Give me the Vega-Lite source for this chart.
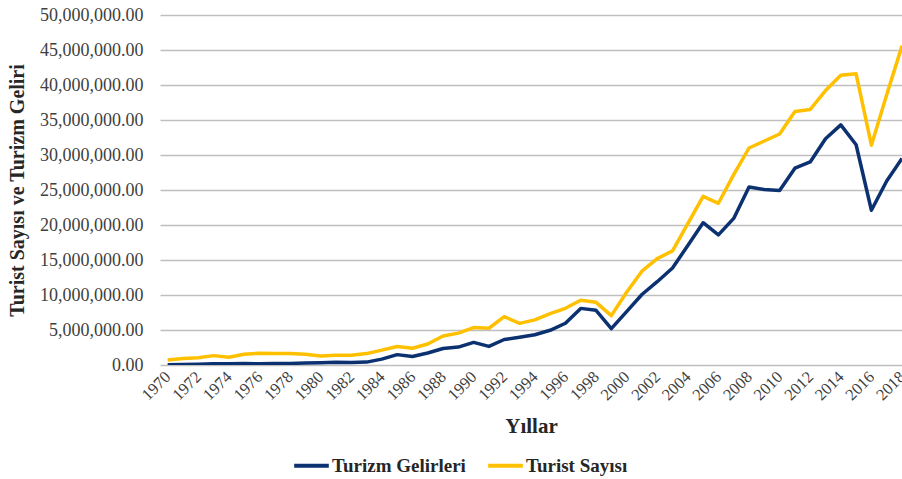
{
  "$schema": "https://vega.github.io/schema/vega-lite/v6.json",
  "width": 742,
  "height": 350,
  "autosize": {"type": "none"},
  "padding": {"left": 160, "top": 15, "right": 0, "bottom": 114},
  "background": "white",
  "config": {"view": {"stroke": null}, "font": "Liberation Serif"},
  "datasets": {
    "rows": [
      {"year": 1970, "series": "Turizm Gelirleri", "value": 51600},
      {"year": 1971, "series": "Turizm Gelirleri", "value": 62000},
      {"year": 1972, "series": "Turizm Gelirleri", "value": 103000},
      {"year": 1973, "series": "Turizm Gelirleri", "value": 171000},
      {"year": 1974, "series": "Turizm Gelirleri", "value": 194000},
      {"year": 1975, "series": "Turizm Gelirleri", "value": 201000},
      {"year": 1976, "series": "Turizm Gelirleri", "value": 181000},
      {"year": 1977, "series": "Turizm Gelirleri", "value": 205000},
      {"year": 1978, "series": "Turizm Gelirleri", "value": 230000},
      {"year": 1979, "series": "Turizm Gelirleri", "value": 281000},
      {"year": 1980, "series": "Turizm Gelirleri", "value": 327000},
      {"year": 1981, "series": "Turizm Gelirleri", "value": 381000},
      {"year": 1982, "series": "Turizm Gelirleri", "value": 370000},
      {"year": 1983, "series": "Turizm Gelirleri", "value": 411000},
      {"year": 1984, "series": "Turizm Gelirleri", "value": 840000},
      {"year": 1985, "series": "Turizm Gelirleri", "value": 1482000},
      {"year": 1986, "series": "Turizm Gelirleri", "value": 1215000},
      {"year": 1987, "series": "Turizm Gelirleri", "value": 1721000},
      {"year": 1988, "series": "Turizm Gelirleri", "value": 2355000},
      {"year": 1989, "series": "Turizm Gelirleri", "value": 2557000},
      {"year": 1990, "series": "Turizm Gelirleri", "value": 3225000},
      {"year": 1991, "series": "Turizm Gelirleri", "value": 2654000},
      {"year": 1992, "series": "Turizm Gelirleri", "value": 3639000},
      {"year": 1993, "series": "Turizm Gelirleri", "value": 3959000},
      {"year": 1994, "series": "Turizm Gelirleri", "value": 4321000},
      {"year": 1995, "series": "Turizm Gelirleri", "value": 4957000},
      {"year": 1996, "series": "Turizm Gelirleri", "value": 5962000},
      {"year": 1997, "series": "Turizm Gelirleri", "value": 8088000},
      {"year": 1998, "series": "Turizm Gelirleri", "value": 7809000},
      {"year": 1999, "series": "Turizm Gelirleri", "value": 5203000},
      {"year": 2000, "series": "Turizm Gelirleri", "value": 7636000},
      {"year": 2001, "series": "Turizm Gelirleri", "value": 10067000},
      {"year": 2002, "series": "Turizm Gelirleri", "value": 11901000},
      {"year": 2003, "series": "Turizm Gelirleri", "value": 13855000},
      {"year": 2004, "series": "Turizm Gelirleri", "value": 17077000},
      {"year": 2005, "series": "Turizm Gelirleri", "value": 20322000},
      {"year": 2006, "series": "Turizm Gelirleri", "value": 18594000},
      {"year": 2007, "series": "Turizm Gelirleri", "value": 20943000},
      {"year": 2008, "series": "Turizm Gelirleri", "value": 25415000},
      {"year": 2009, "series": "Turizm Gelirleri", "value": 25064000},
      {"year": 2010, "series": "Turizm Gelirleri", "value": 24931000},
      {"year": 2011, "series": "Turizm Gelirleri", "value": 28116000},
      {"year": 2012, "series": "Turizm Gelirleri", "value": 29007000},
      {"year": 2013, "series": "Turizm Gelirleri", "value": 32310000},
      {"year": 2014, "series": "Turizm Gelirleri", "value": 34305000},
      {"year": 2015, "series": "Turizm Gelirleri", "value": 31465000},
      {"year": 2016, "series": "Turizm Gelirleri", "value": 22107000},
      {"year": 2017, "series": "Turizm Gelirleri", "value": 26284000},
      {"year": 2018, "series": "Turizm Gelirleri", "value": 29513000},
      {"year": 1970, "series": "Turist Sayısı", "value": 720000},
      {"year": 1971, "series": "Turist Sayısı", "value": 930000},
      {"year": 1972, "series": "Turist Sayısı", "value": 1030000},
      {"year": 1973, "series": "Turist Sayısı", "value": 1340000},
      {"year": 1974, "series": "Turist Sayısı", "value": 1110000},
      {"year": 1975, "series": "Turist Sayısı", "value": 1540000},
      {"year": 1976, "series": "Turist Sayısı", "value": 1680000},
      {"year": 1977, "series": "Turist Sayısı", "value": 1660000},
      {"year": 1978, "series": "Turist Sayısı", "value": 1640000},
      {"year": 1979, "series": "Turist Sayısı", "value": 1520000},
      {"year": 1980, "series": "Turist Sayısı", "value": 1290000},
      {"year": 1981, "series": "Turist Sayısı", "value": 1410000},
      {"year": 1982, "series": "Turist Sayısı", "value": 1390000},
      {"year": 1983, "series": "Turist Sayısı", "value": 1630000},
      {"year": 1984, "series": "Turist Sayısı", "value": 2120000},
      {"year": 1985, "series": "Turist Sayısı", "value": 2650000},
      {"year": 1986, "series": "Turist Sayısı", "value": 2400000},
      {"year": 1987, "series": "Turist Sayısı", "value": 3000000},
      {"year": 1988, "series": "Turist Sayısı", "value": 4150000},
      {"year": 1989, "series": "Turist Sayısı", "value": 4550000},
      {"year": 1990, "series": "Turist Sayısı", "value": 5350000},
      {"year": 1991, "series": "Turist Sayısı", "value": 5250000},
      {"year": 1992, "series": "Turist Sayısı", "value": 6900000},
      {"year": 1993, "series": "Turist Sayısı", "value": 5950000},
      {"year": 1994, "series": "Turist Sayısı", "value": 6450000},
      {"year": 1995, "series": "Turist Sayısı", "value": 7350000},
      {"year": 1996, "series": "Turist Sayısı", "value": 8100000},
      {"year": 1997, "series": "Turist Sayısı", "value": 9250000},
      {"year": 1998, "series": "Turist Sayısı", "value": 8950000},
      {"year": 1999, "series": "Turist Sayısı", "value": 7050000},
      {"year": 2000, "series": "Turist Sayısı", "value": 10400000},
      {"year": 2001, "series": "Turist Sayısı", "value": 13400000},
      {"year": 2002, "series": "Turist Sayısı", "value": 15200000},
      {"year": 2003, "series": "Turist Sayısı", "value": 16300000},
      {"year": 2004, "series": "Turist Sayısı", "value": 20200000},
      {"year": 2005, "series": "Turist Sayısı", "value": 24100000},
      {"year": 2006, "series": "Turist Sayısı", "value": 23100000},
      {"year": 2007, "series": "Turist Sayısı", "value": 27200000},
      {"year": 2008, "series": "Turist Sayısı", "value": 31000000},
      {"year": 2009, "series": "Turist Sayısı", "value": 32000000},
      {"year": 2010, "series": "Turist Sayısı", "value": 33000000},
      {"year": 2011, "series": "Turist Sayısı", "value": 36200000},
      {"year": 2012, "series": "Turist Sayısı", "value": 36500000},
      {"year": 2013, "series": "Turist Sayısı", "value": 39200000},
      {"year": 2014, "series": "Turist Sayısı", "value": 41400000},
      {"year": 2015, "series": "Turist Sayısı", "value": 41600000},
      {"year": 2016, "series": "Turist Sayısı", "value": 31400000},
      {"year": 2017, "series": "Turist Sayısı", "value": 38600000},
      {"year": 2018, "series": "Turist Sayısı", "value": 45600000}
    ]
  },
  "data": {"name": "rows"},
  "mark": {"type": "line", "strokeWidth": 3.5, "clip": true, "strokeJoin": "round"},
  "encoding": {
    "x": {
      "field": "year",
      "type": "quantitative",
      "scale": {"domain": [1969.5, 2018], "nice": false, "zero": false},
      "axis": {
        "values": [1970, 1972, 1974, 1976, 1978, 1980, 1982, 1984, 1986, 1988, 1990, 1992, 1994, 1996, 1998, 2000, 2002, 2004, 2006, 2008, 2010, 2012, 2014, 2016, 2018],
        "format": "d",
        "labelAngle": -45,
        "labelAlign": "right",
        "labelBaseline": "middle",
        "labelFontSize": 16.5,
        "labelColor": "#404040",
        "labelPadding": 9,
        "labelFlush": false,
        "labelOverlap": false,
        "grid": false,
        "domain": false,
        "ticks": false,
        "title": "Yıllar",
        "titleFontSize": 21,
        "titleFontWeight": "bold",
        "titleColor": "#262626",
        "titlePadding": 12
      }
    },
    "y": {
      "field": "value",
      "type": "quantitative",
      "scale": {"domain": [0, 50000000], "nice": false},
      "axis": {
        "values": [0, 5000000, 10000000, 15000000, 20000000, 25000000, 30000000, 35000000, 40000000, 45000000, 50000000],
        "format": ",.2f",
        "labelFontSize": 18,
        "labelColor": "#404040",
        "labelPadding": 17,
        "gridColor": "#BFBFBF",
        "gridWidth": 1.5,
        "domain": false,
        "ticks": false,
        "title": "Turist Sayısı ve Turizm Geliri",
        "titleFontSize": 20,
        "titleFontWeight": "bold",
        "titleColor": "#262626",
        "titleX": -133
      }
    },
    "color": {
      "field": "series",
      "type": "nominal",
      "scale": {"domain": ["Turizm Gelirleri", "Turist Sayısı"], "range": ["#0B3170", "#FFC000"]},
      "legend": {
        "title": null,
        "orient": "none",
        "direction": "horizontal",
        "legendX": 132,
        "legendY": 431,
        "symbolType": "stroke",
        "symbolStrokeWidth": 4,
        "symbolSize": 1200,
        "labelFontSize": 19,
        "labelFontWeight": "bold",
        "labelColor": "#262626",
        "labelOffset": 1,
        "columnPadding": 14
      }
    }
  }
}
